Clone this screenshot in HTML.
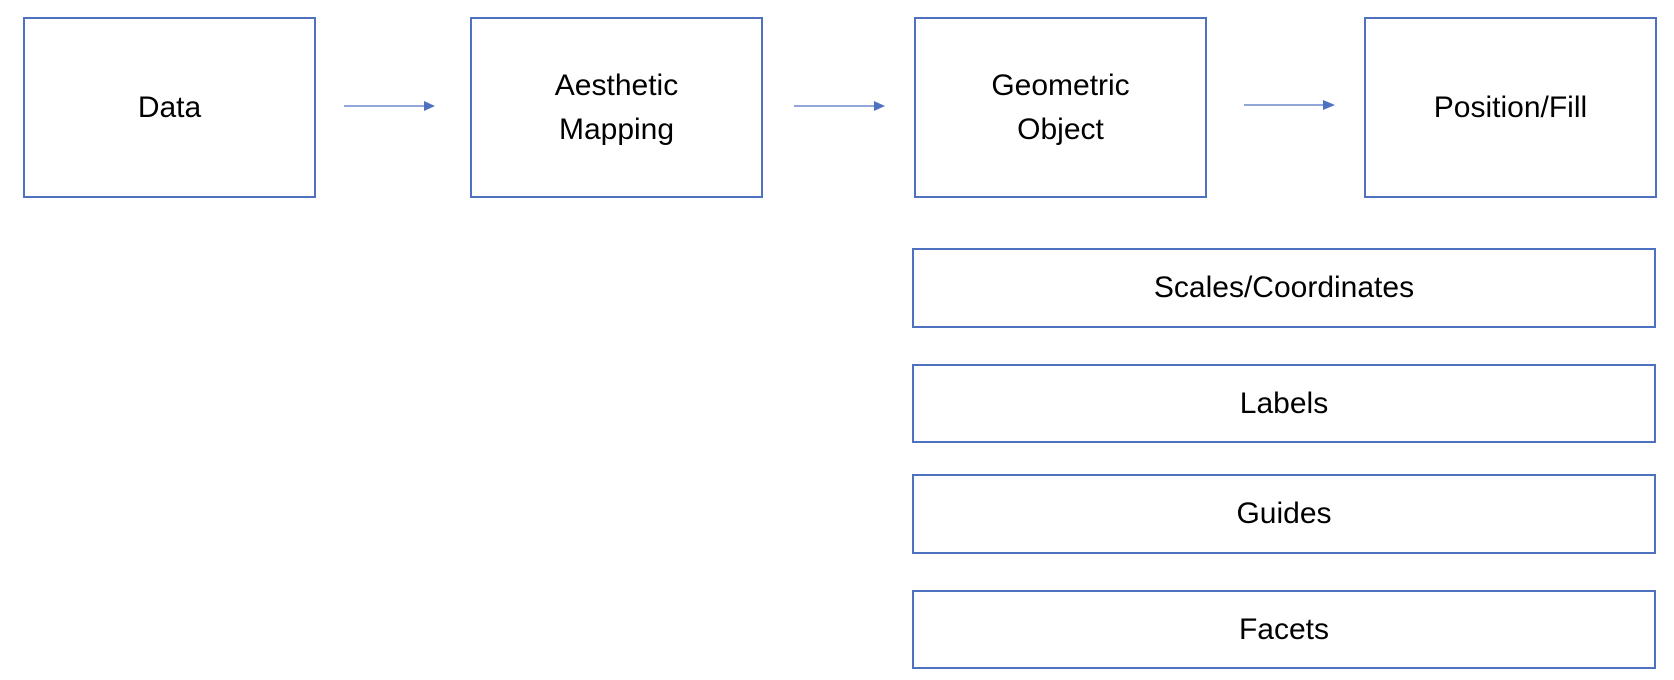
<!DOCTYPE html>
<html><head><style>
html,body{margin:0;padding:0;background:#fff;width:1674px;height:680px;overflow:hidden;}
.b{position:absolute;box-sizing:border-box;border:2px solid #4f72c0;display:flex;align-items:center;justify-content:center;text-align:center;font-family:"Liberation Sans",sans-serif;font-size:30px;line-height:44px;color:#000;}
</style></head><body>
<div class="b" style="left:23px;top:17px;width:293px;height:181px;">Data</div>
<div class="b" style="left:470px;top:17px;width:293px;height:181px;">Aesthetic<br>Mapping</div>
<div class="b" style="left:914px;top:17px;width:293px;height:181px;">Geometric<br>Object</div>
<div class="b" style="left:1364px;top:17px;width:293px;height:181px;">Position/Fill</div>
<div class="b" style="left:912px;top:248px;width:744px;height:80px;">Scales/Coordinates</div>
<div class="b" style="left:912px;top:364px;width:744px;height:79px;">Labels</div>
<div class="b" style="left:912px;top:474px;width:744px;height:80px;">Guides</div>
<div class="b" style="left:912px;top:590px;width:744px;height:79px;">Facets</div>
<svg width="1674" height="680" style="position:absolute;left:0;top:0">
<g stroke="#4f72c0" stroke-width="1.3" fill="#4f72c0">
<line x1="344" y1="106" x2="426" y2="106"/><polygon points="424,101 435,106 424,111" stroke="none"/>
<line x1="794" y1="106" x2="876" y2="106"/><polygon points="874,101 885,106 874,111" stroke="none"/>
<line x1="1244" y1="105" x2="1325" y2="105"/><polygon points="1323,100 1335,105 1323,110" stroke="none"/>
</g></svg>
</body></html>
